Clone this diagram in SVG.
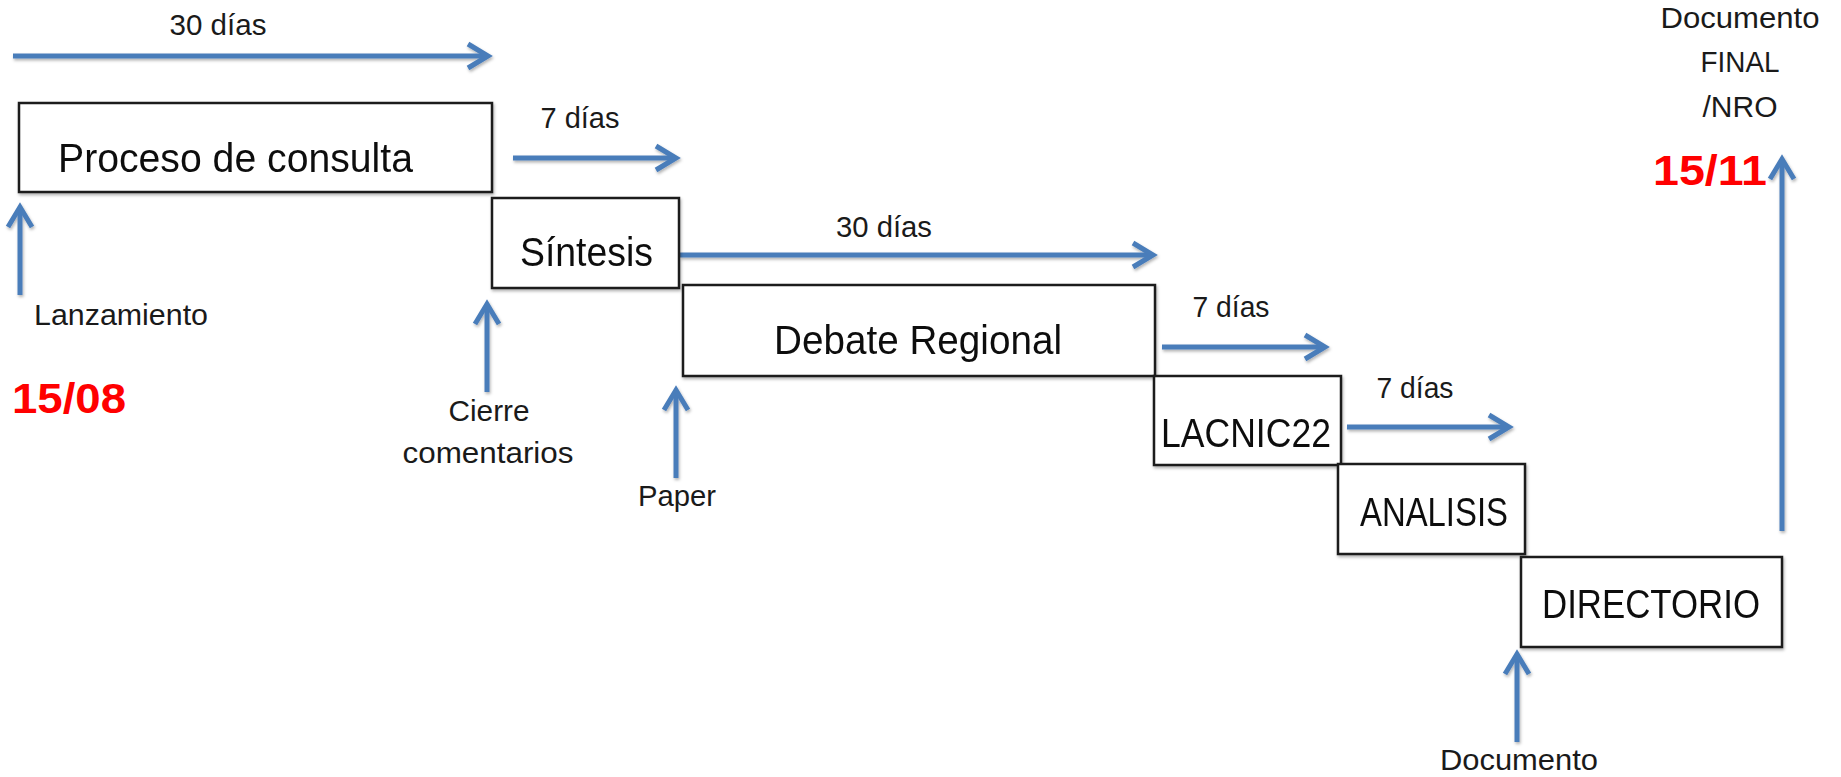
<svg xmlns="http://www.w3.org/2000/svg" width="1841" height="777" viewBox="0 0 1841 777">
  <style>
    .box { fill: #ffffff; stroke: #1a1a1a; stroke-width: 2.5; }
    .bt { font-family: "Liberation Sans", Arial, sans-serif; font-size: 41px; fill: #111111; }
    .lbl { font-family: "Liberation Sans", Arial, sans-serif; font-size: 30px; fill: #1a1a1a; }
    .date { font-family: "Liberation Sans", Arial, sans-serif; font-size: 42px; font-weight: bold; fill: #ff0000; }
    .arr { fill: none; stroke: #4a7dba; stroke-width: 5; }
  </style>
  <defs>
    <marker id="head" markerUnits="userSpaceOnUse" markerWidth="30" markerHeight="30" viewBox="-24 -15 30 30" refX="0" refY="0" orient="auto">
      <path d="M-20,-12 L0,0 L-20,12" fill="none" stroke="#4a7dba" stroke-width="5" stroke-linejoin="miter"/>
    </marker>
    <filter id="sh" x="-5%" y="-20%" width="110%" height="140%">
      <feDropShadow dx="1" dy="2" stdDeviation="1.5" flood-color="#000000" flood-opacity="0.3"/>
    </filter>
  </defs>
  <rect width="1841" height="777" fill="#ffffff"/>

  <g id="connectors" filter="url(#sh)">
    <path class="arr" d="M13,56 H488" marker-end="url(#head)"/>
    <path class="arr" d="M513,158 H676" marker-end="url(#head)"/>
    <path class="arr" d="M680,255 H1153" marker-end="url(#head)"/>
    <path class="arr" d="M1162,347 H1325" marker-end="url(#head)"/>
    <path class="arr" d="M1347,427 H1509" marker-end="url(#head)"/>
    <path class="arr" d="M20,295 V207" marker-end="url(#head)"/>
    <path class="arr" d="M487,392 V304" marker-end="url(#head)"/>
    <path class="arr" d="M676,478 V390" marker-end="url(#head)"/>
    <path class="arr" d="M1517,742 V654" marker-end="url(#head)"/>
    <path class="arr" d="M1782,531 V159" marker-end="url(#head)"/>
  </g>

  <g id="edge-labels">
    <text class="lbl" x="218" y="35" text-anchor="middle" textLength="97" lengthAdjust="spacingAndGlyphs">30 días</text>
    <text class="lbl" x="580" y="128" text-anchor="middle" textLength="79" lengthAdjust="spacingAndGlyphs">7 días</text>
    <text class="lbl" x="884" y="237" text-anchor="middle" textLength="96" lengthAdjust="spacingAndGlyphs">30 días</text>
    <text class="lbl" x="1231" y="317" text-anchor="middle" textLength="77" lengthAdjust="spacingAndGlyphs">7 días</text>
    <text class="lbl" x="1415" y="398" text-anchor="middle" textLength="77" lengthAdjust="spacingAndGlyphs">7 días</text>
  </g>

  <g id="proceso" filter="url(#sh)">
    <rect class="box" x="19" y="103" width="473" height="89"/>
    <text class="bt" x="58" y="172" textLength="355" lengthAdjust="spacingAndGlyphs">Proceso de consulta</text>
  </g>
  <g id="sintesis" filter="url(#sh)">
    <rect class="box" x="492" y="198" width="187" height="90"/>
    <text class="bt" x="520" y="266" textLength="133" lengthAdjust="spacingAndGlyphs">Síntesis</text>
  </g>
  <g id="debate" filter="url(#sh)">
    <rect class="box" x="683" y="285" width="472" height="91"/>
    <text class="bt" x="774" y="354" textLength="288" lengthAdjust="spacingAndGlyphs">Debate Regional</text>
  </g>
  <g id="lacnic22" filter="url(#sh)">
    <rect class="box" x="1154" y="376" width="187" height="89"/>
    <text class="bt" x="1161" y="447" textLength="170" lengthAdjust="spacingAndGlyphs">LACNIC22</text>
  </g>
  <g id="analisis" filter="url(#sh)">
    <rect class="box" x="1338" y="464" width="187" height="90"/>
    <text class="bt" x="1360" y="526" textLength="148" lengthAdjust="spacingAndGlyphs">ANALISIS</text>
  </g>
  <g id="directorio" filter="url(#sh)">
    <rect class="box" x="1521" y="557" width="261" height="90"/>
    <text class="bt" x="1542" y="618" textLength="218" lengthAdjust="spacingAndGlyphs">DIRECTORIO</text>
  </g>

  <g id="lanzamiento">
    <text class="lbl" x="34" y="325" textLength="174" lengthAdjust="spacingAndGlyphs">Lanzamiento</text>
    <text class="date" x="12" y="413" textLength="114" lengthAdjust="spacingAndGlyphs">15/08</text>
  </g>
  <g id="cierre">
    <text class="lbl" x="489" y="421" text-anchor="middle" textLength="81" lengthAdjust="spacingAndGlyphs">Cierre</text>
    <text class="lbl" x="488" y="463" text-anchor="middle" textLength="171" lengthAdjust="spacingAndGlyphs">comentarios</text>
  </g>
  <g id="paper">
    <text class="lbl" x="677" y="506" text-anchor="middle" textLength="78" lengthAdjust="spacingAndGlyphs">Paper</text>
  </g>
  <g id="documento">
    <text class="lbl" x="1519" y="770" text-anchor="middle" textLength="158" lengthAdjust="spacingAndGlyphs">Documento</text>
  </g>
  <g id="documento-final">
    <text class="lbl" x="1740" y="28" text-anchor="middle" textLength="159" lengthAdjust="spacingAndGlyphs">Documento</text>
    <text class="lbl" x="1740" y="72" text-anchor="middle" textLength="79" lengthAdjust="spacingAndGlyphs">FINAL</text>
    <text class="lbl" x="1740" y="117" text-anchor="middle" textLength="75" lengthAdjust="spacingAndGlyphs">/NRO</text>
    <text class="date" x="1653" y="185" textLength="114" lengthAdjust="spacingAndGlyphs">15/11</text>
  </g>
</svg>
